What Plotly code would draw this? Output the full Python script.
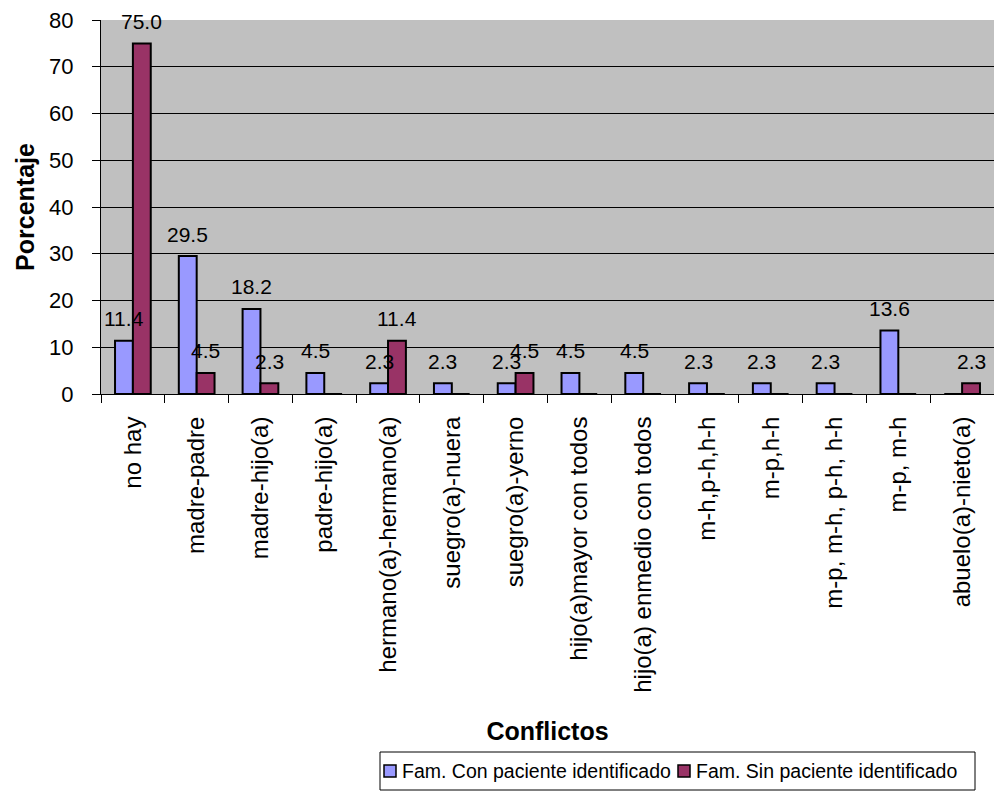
import plotly.graph_objects as go

# Conflict categories and percentages for each family group
categorias = [
    "no hay", "madre-padre", "madre-hijo(a)", "padre-hijo(a)",
    "hermano(a)-hermano(a)", "suegro(a)-nuera", "suegro(a)-yerno",
    "hijo(a)mayor con todos", "hijo(a) enmedio con todos", "m-h,p-h,h-h",
    "m-p,h-h", "m-p, m-h, p-h, h-h", "m-p, m-h", "abuelo(a)-nieto(a)",
]
con_paciente = [11.4, 29.5, 18.2, 4.5, 2.3, 2.3, 2.3, 4.5, 4.5, 2.3, 2.3, 2.3, 13.6, 0]
sin_paciente = [75.0, 4.5, 2.3, 0, 11.4, 0, 4.5, 0, 0, 0, 0, 0, 0, 2.3]
series_names = ["Fam. Con paciente identificado", "Fam. Sin paciente identificado"]
y_ticks = [0, 10, 20, 30, 40, 50, 60, 70, 80]

FONT = "Liberation Sans, Arial, sans-serif"
BARGAP = 0.44
COLORS = ["#9999FF", "#993366"]

W, H = 994, 811
L, R, T, B = 101, 0, 20, 417


def px_x(px):
    """pixel column -> paper x"""
    return (px - L) / (W - L - R)


def px_y(py):
    """pixel row -> paper y"""
    return (H - B - py) / (H - B - T)


fig = go.Figure()
for name, vals, col in zip(series_names, (con_paciente, sin_paciente), COLORS):
    fig.add_trace(go.Bar(
        x=categorias, y=vals, name=name,
        marker=dict(color=col, line=dict(color="black", width=2)),
    ))

# value labels above each non-zero bar
half = (1 - BARGAP) / 4
for offset, serie in ((-half, con_paciente), (half, sin_paciente)):
    for i, v in enumerate(serie):
        if v:
            fig.add_annotation(
                x=i + offset, y=v, xref="x", yref="y", text=f"{v:.1f}",
                showarrow=False, yshift=22, yanchor="middle",
                font=dict(family=FONT, size=21, color="black"),
            )

# compact boxed legend below the chart
fig.add_shape(type="rect", xref="paper", yref="paper",
              x0=px_x(380), x1=px_x(975), y0=px_y(752), y1=px_y(790),
              line=dict(color="black", width=1), fillcolor="white", layer="above")
for (mx, tx), name, col in zip(((384, 400), (678, 694)), series_names, COLORS):
    fig.add_shape(type="rect", xref="paper", yref="paper",
                  x0=px_x(mx), x1=px_x(mx + 12), y0=px_y(765), y1=px_y(777),
                  line=dict(color="black", width=1.5), fillcolor=col, layer="above")
    fig.add_annotation(x=px_x(tx), y=px_y(771), xref="paper", yref="paper",
                       text=name, showarrow=False, xanchor="left", yanchor="middle",
                       font=dict(family=FONT, size=19.5, color="black"))

fig.update_layout(
    width=W, height=H,
    margin=dict(l=L, r=R, t=T, b=B),
    paper_bgcolor="white", plot_bgcolor="#C0C0C0",
    barmode="group", bargap=BARGAP, bargroupgap=0,
    font=dict(family=FONT, size=20, color="black"),
    showlegend=False,
)
fig.update_xaxes(
    type="category", tickangle=-90, tickson="boundaries",
    ticks="outside", ticklen=8, tickcolor="black",
    showline=True, linecolor="black", linewidth=1,
    showgrid=False, ticklabelstandoff=12,
    tickfont=dict(family=FONT, size=24),
    title=dict(text="<b>Conflictos</b>", font=dict(family=FONT, size=25), standoff=30),
)
fig.update_yaxes(
    range=[0, 80], tickvals=y_ticks, ticks="outside", ticklen=8, tickcolor="black",
    showline=True, linecolor="black", linewidth=1,
    showgrid=True, gridcolor="black", gridwidth=1, zeroline=False,
    tickfont=dict(family=FONT, size=22), ticklabelstandoff=14,
    title=dict(text="<b>Porcentaje</b>", font=dict(family=FONT, size=25), standoff=7),
)

fig.write_html("out.html")
